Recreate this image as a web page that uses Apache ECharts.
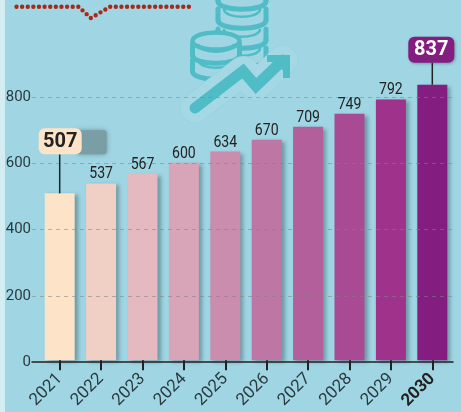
<!DOCTYPE html>
<html><head><meta charset="utf-8">
<style>html,body{margin:0;padding:0;background:#a0d6e3}#c{width:461px;height:412px}</style>
<script src="https://cdn.jsdelivr.net/npm/echarts@6/dist/echarts.min.js"></script>
</head><body><div id="c"></div>
<script>
const categories = ['2021','2022','2023','2024','2025','2026','2027','2028','2029','2030'];
const values = [507,537,567,600,634,670,709,749,792,837];
const barColors = ['#fde3c8','#f0cfc4','#e4b9c0','#d8a4b7','#ca8dae','#be76a5','#b25f9c','#a94a94','#9f338c','#841d80'];
const callouts = [[0,507],[9,837]];
const yTicks = [0,200,400,600,800];

const TEAL = '#4fbcc6', BG = '#a0d6e3';
const poly = (points, color, width, z, extra) => ({
  type:'polyline', silent:true, z:z, shape:{points:points},
  style:Object.assign({fill:null, stroke:color, lineWidth:width, lineCap:'round', lineJoin:'round'}, extra||{})
});
const coinU = (cx,y,rx,z) => [
  poly([[cx-rx,y],[cx-rx,y+11]], TEAL, 5, z),
  poly([[cx+rx,y],[cx+rx,y+11]], TEAL, 5, z),
  {type:'bezierCurve', silent:true, z:z,
   shape:{x1:cx-rx,y1:y+11,x2:cx+rx,y2:y+11,cpx1:cx-rx,cpy1:y+22,cpx2:cx+rx,cpy2:y+22},
   style:{fill:null, stroke:TEAL, lineWidth:5, lineCap:'round'}},
  {type:'bezierCurve', silent:true, z:z,
   shape:{x1:cx-rx+6,y1:y+1,x2:cx+rx-6,y2:y+1,cpx1:cx-rx+9,cpy1:y+10,cpx2:cx+rx-9,cpy2:y+10},
   style:{fill:null, stroke:TEAL, lineWidth:2.5, lineCap:'round'}}
];
const arrowPts = [[195,108],[243,71],[256,86],[283,60]];

const graphics = [
  {type:'rect', silent:true, z:-30, shape:{x:0,y:0,width:5,height:412}, style:{fill:'#d3edf3'}},
  poly([[16.5,6.7],[78.5,6.7],[90.9,18],[110,6.7],[192,6.7]], '#a8281a', 4.4, -20, {lineDash:[0,5.62]}),
  ...coinU(242,-10,24,-20),
  ...coinU(242,9,24,-20),
  ...coinU(242,29,24,-20),
  ...coinU(242,48,24,-20),
  {type:'rect', silent:true, z:-19, shape:{x:190,y:41,width:52,height:34}, style:{fill:BG}},
  {type:'ellipse', silent:true, z:-18, shape:{cx:216,cy:41,rx:23.5,ry:8.5}, style:{fill:BG, stroke:TEAL, lineWidth:4.5}},
  ...coinU(216,44,23.5,-18),
  ...coinU(216,60,23.5,-18),
  poly(arrowPts, '#96d1dd', 30, -12),
  poly(arrowPts, '#a3d8e4', 29, -11),
  poly(arrowPts, TEAL, 11, -10, {lineJoin:'miter'}),
  {type:'polygon', silent:true, z:-10, shape:{points:[[267,55],[290,55],[290,78],[283,78],[283,62],[267,62]]}, style:{fill:TEAL}},
  {type:'polygon', silent:true, z:-10, shape:{points:[[268,55],[290,55],[290,78]]}, style:{fill:TEAL}}
];

const chart = echarts.init(document.getElementById('c'), null, {renderer:'canvas'});
chart.setOption({
  animation:false,
  backgroundColor:BG,
  graphic:{elements:graphics},
  grid:[
    {left:32, width:421, top:31, height:331},
    {left:39, width:414, top:31, height:331}
  ],
  xAxis:[
    {gridIndex:0, type:'category', data:categories, z:6,
     axisLine:{lineStyle:{color:'#222',width:1.5}}, axisTick:{show:false}, axisLabel:{show:false}, splitLine:{show:false}},
    {gridIndex:1, type:'category', data:categories, z:6,
     axisLine:{show:false},
     axisTick:{show:true, alignWithLabel:true, length:10, lineStyle:{color:'#222',width:2}},
     axisLabel:{interval:0, rotate:45, margin:16, fontFamily:'Roboto', fontSize:17, color:'#2b3a40',
       formatter:function(v){ return v === '2030' ? '{b|'+v+'}' : v; },
       rich:{b:{fontFamily:'Roboto', fontSize:17, fontWeight:'bold', color:'#222'}}}}
  ],
  yAxis:[
    {gridIndex:0, type:'value', min:0, max:1000, interval:200, z:5,
     axisLine:{show:false}, axisTick:{show:false},
     axisLabel:{margin:1, fontFamily:'Roboto', fontSize:15, color:'#2b3a40',
       formatter:function(v){ return yTicks.indexOf(v) >= 0 ? String(v) : ''; }},
     splitLine:{show:true, showMinLine:false, showMaxLine:false,
       lineStyle:{type:[4,4], color:'rgba(130,130,130,0.55)', width:1.2}}},
    {gridIndex:1, type:'value', min:0, max:1000, interval:200, show:false}
  ],
  series:[
    {type:'bar', xAxisIndex:1, yAxisIndex:1, barWidth:30, z:2,
     data:values.map(function(v,i){ return {value:v, itemStyle:{color:barColors[i]}}; }),
     itemStyle:{shadowBlur:4, shadowOffsetX:3, shadowOffsetY:2, shadowColor:'rgba(30,60,70,0.4)'}
    },
    {type:'custom', xAxisIndex:1, yAxisIndex:1, z:7, clip:false,
     data:values.map(function(v,i){ return [i,v]; }),
     renderItem:function(params, api){
       const i = api.value(0), v = api.value(1), p = api.coord([i,v]);
       if(callouts.some(function(c){return c[0]===i;})) return {type:'group', children:[]};
       return {type:'text', x:p[0], y:p[1]-1, scaleX:0.88,
         style:{x:0,y:0,text:String(v),align:'center',verticalAlign:'bottom',
           fontFamily:'Roboto',fontSize:16,fill:'#222'}};
     }},
    {type:'custom', xAxisIndex:1, yAxisIndex:1, z:8, clip:false, data:callouts,
     renderItem:function(params, api){
       const i = api.value(0), v = api.value(1), p = api.coord([i,v]);
       const first = i === 0;
       const h = 26, top = first ? p[1]-65 : p[1]-48;
       const w = first ? 43 : 46;
       const x = first ? p[0]-21 : p[0]-24;
       const children = [];
       if(first){
         children.push({type:'rect', shape:{x:x+38,y:top+2,width:30,height:24,r:3},
           style:{fill:'#7a9ea6', shadowBlur:5, shadowColor:'rgba(90,120,130,0.7)'}});
       }
       children.push({type:'line', shape:{x1:p[0],y1:top+h,x2:p[0],y2:p[1]}, style:{stroke:'#222',lineWidth:1.5}});
       children.push({type:'rect', shape:{x:x,y:top,width:w,height:h,r:6},
         style:{fill:barColors[i], shadowBlur:first?0:3, shadowOffsetX:first?0:1, shadowOffsetY:first?0:1, shadowColor:'rgba(30,60,70,0.4)'}});
       children.push({type:'text', style:{x:x+w/2,y:top+h/2+0.5,text:String(v),align:'center',verticalAlign:'middle',
         fontFamily:'Roboto',fontSize:20,fontWeight:'bold',fill:first?'#222':'#fff'}});
       return {type:'group', children:children};
     }}
  ]
});
</script></body></html>
